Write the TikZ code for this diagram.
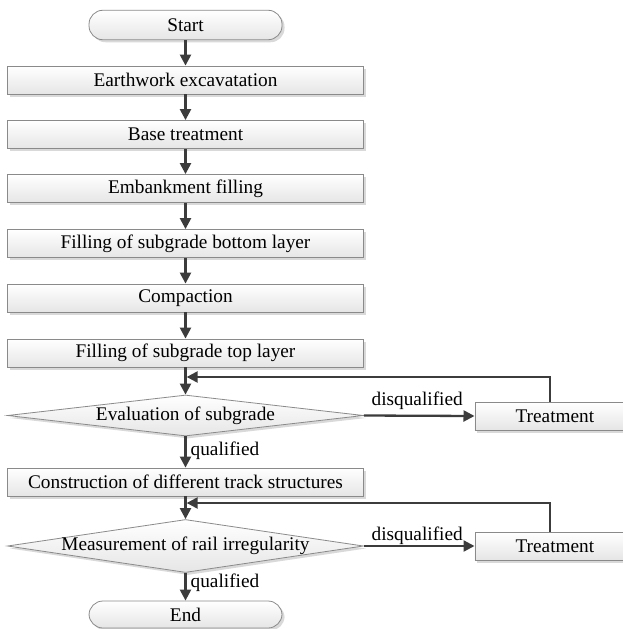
\documentclass[tikz,border=0pt]{standalone}
\usepackage{fontspec}
\setmainfont{Liberation Serif}
\usetikzlibrary{shadows,arrows.meta,shapes.geometric}
\definecolor{linegray}{HTML}{8A8A8A}
\definecolor{arrowgray}{HTML}{3C3C3C}
\tikzset{
  txt/.style={font=\rmfamily\fontsize{19.3}{21}\selectfont},
  base/.style={draw=linegray, line width=0.8pt, top color=white, bottom color=black!10,
    drop shadow={shadow xshift=2.5pt, shadow yshift=-2.5pt, fill=black!25, opacity=0.6},
    inner sep=0pt, txt},
  procbox/.style={base, rectangle, minimum width=356pt, minimum height=28pt},
  termbox/.style={base, rectangle, rounded corners=14pt, minimum width=193pt, minimum height=29pt},
  treatbox/.style={base, rectangle, minimum width=160pt, minimum height=28pt, anchor=west},
  decbox/.style={base, diamond, aspect=8},
  lbl/.style={txt, inner sep=0pt},
  flow/.style={draw=arrowgray, line width=2.3pt, -{Triangle[length=11pt, width=11pt]}},
  fline/.style={draw=arrowgray, line width=2.3pt}
}
\begin{document}
\begin{tikzpicture}[x=1pt, y=-1pt]
\useasboundingbox (0,0) rectangle (623,629);
\node[termbox, minimum height=29.5pt] (start) at (185.5,25) {Start};
\node[procbox] (s1) at (185.5,80) {Earthwork excavatation};
\node[procbox] (s2) at (185.5,134.5) {Base treatment};
\node[procbox] (s3) at (185.5,188.5) {Embankment filling};
\node[procbox] (s4) at (185.5,243.5) {Filling of subgrade bottom layer};
\node[procbox] (s5) at (185.5,298) {Compaction};
\node[procbox] (s6) at (185.5,353) {Filling of subgrade top layer};
\node[decbox, minimum width=356pt, minimum height=41pt] (d1) at (185.5,415.5) {};
\node[lbl] (d1t) at (d1) {Evaluation of subgrade};
\node[treatbox] (t1) at (474.5,416) {Treatment};
\node[procbox] (s7) at (185.5,482) {Construction of different track structures};
\node[decbox, minimum width=356pt, minimum height=53pt] (d2) at (185.5,546) {};
\node[lbl] (d2t) at (d2) {Measurement of rail irregularity};
\node[treatbox] (t2) at (474.5,546) {Treatment};
\node[termbox, minimum height=27pt] (end) at (185.5,614.5) {End};

\coordinate (m1) at (185.5,377);
\coordinate (m2) at (185.5,503);
\coordinate (c1) at (550,377);
\coordinate (c2) at (550,503);

\draw[flow] (start) -- (s1);
\draw[flow] (s1) -- (s2);
\draw[flow] (s2) -- (s3);
\draw[flow] (s3) -- (s4);
\draw[flow] (s4) -- (s5);
\draw[flow] (s5) -- (s6);
\draw[flow] (s6.south) -- (d1.north);
\draw[flow] (d1.south) -- node[lbl, right=4pt, yshift=1pt] (q1) {qualified} (s7.north);
\draw[flow] (d2.south) -- node[lbl, right=4pt, yshift=4pt] (q2) {qualified} (end.north);
\draw[flow] (s7.south) -- (d2.north);
\draw[flow] (d1.east) -- node[lbl, above=5pt, xshift=-2pt] (dq1) {disqualified} (t1.west);
\draw[flow] (d2.east) -- node[lbl, above=0.5pt, xshift=-2pt] (dq2) {disqualified} (t2.west);
\draw[fline] (t1.north -| c1) -- (c1);
\draw[flow] ([xshift=1.15pt]c1) -- ([xshift=1.15pt]m1);
\draw[fline] (t2.north -| c2) -- (c2);
\draw[flow] ([xshift=1.15pt]c2) -- ([xshift=1.15pt]m2);
\end{tikzpicture}
\end{document}
